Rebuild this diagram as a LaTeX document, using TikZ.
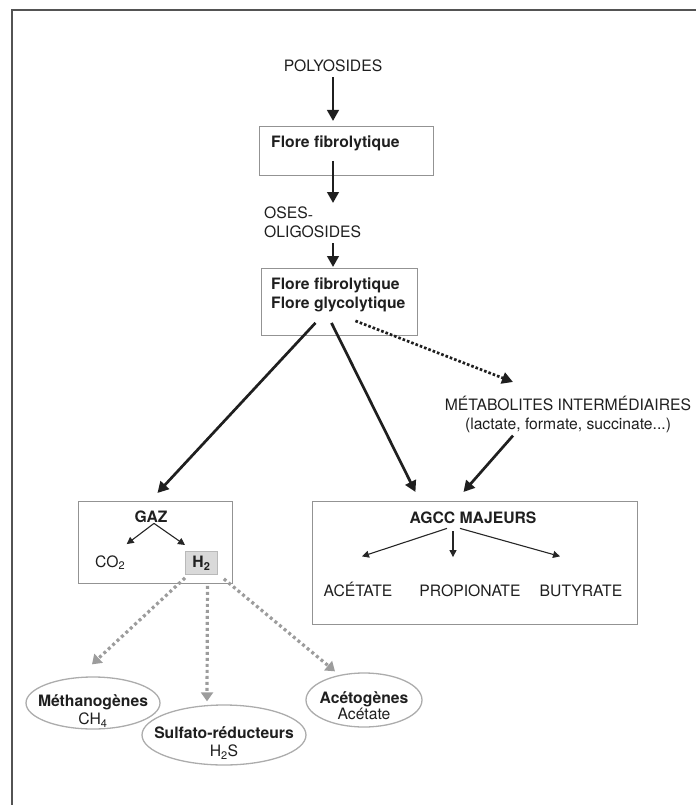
\documentclass[tikz,border=0pt]{standalone}
\usepackage{fontspec}
\setmainfont{TeX Gyre Heros}
\usetikzlibrary{arrows.meta, shapes}

\tikzset{
  texte/.style={inner sep=0pt, text=black!88, font=\fontsize{15.7}{18.5}\selectfont},
  gras/.style={texte, font=\fontsize{15.7}{18.5}\selectfont\bfseries},
  boite/.style={draw=gray!85, line width=0.9pt, inner sep=0pt},
  bulle/.style={draw=gray!65, line width=1.3pt, ellipse, inner sep=0pt},
  fleche/.style={line width=2.7pt, draw=black!88, -{Triangle[length=11pt,width=11.5pt]}},
  pointille/.style={fleche, dash pattern=on 2.6pt off 2pt},
  petite/.style={line width=1.1pt, draw=black!85, -{Triangle[length=7pt,width=7pt]}},
  grise/.style={line width=3.2pt, draw=gray!78, dash pattern=on 3pt off 3pt,
    -{Triangle[length=9pt,width=12pt]}}
}

\begin{document}
\begin{tikzpicture}[x=1pt, y=-1pt]
				\useasboundingbox (0,0) rectangle (696,805);
				% Cadre
				\draw[line width=2pt, gray!65!black] (11.5,805) -- (11.5,10) -- (696,10);
				% Nœuds
				\node[texte, anchor=base] (poly) at (333,72) {POLYOSIDES};
				\node[boite, anchor=north west, minimum width=174pt, minimum height=49pt] (flore1) at (259,126) {};
				\node[gras, anchor=base west] (t1) at (271,148) {Flore fibrolytique};
				\node[texte, anchor=north west, align=left] (oses) at (264,207) {OSES\raisebox{-2pt}{-}\\OLIGOSIDES};
				\node[boite, anchor=north west, minimum width=156pt, minimum height=67pt] (flore2) at (261,268) {};
				\node[gras, anchor=north west, align=left] (t2) at (271,278) {Flore fibrolytique\\Flore glycolytique};
				\node[texte, anchor=north, align=center] (metab) at (568,396) {MÉTABOLITES INTERMÉDIAIRES\\(lactate, formate, succinate...)};
				% Gaz
				\node[boite, anchor=north west, minimum width=154pt, minimum height=82pt] (gaz) at (78,501) {};
				\node[gras, anchor=base] (gaztxt) at (151,522) {GAZ};
				\node[texte, anchor=base west] (co2) at (95,567) {CO\textsubscript{2}};
				\node[boite, gras, fill=gray!30, draw=gray!55, anchor=north west, minimum width=32pt, minimum height=23pt] (h2) at (185,551) {H\textsubscript{2}};
				% AGCC
				\node[boite, anchor=north west, minimum width=325pt, minimum height=123pt] (agcc) at (312,501) {};
				\node[gras, anchor=base] (agcctxt) at (473,523) {AGCC MAJEURS};
				\node[texte, anchor=base] (acet) at (358,596) {ACÉTATE};
				\node[texte, anchor=base] (prop) at (470,596) {PROPIONATE};
				\node[texte, anchor=base] (buty) at (581,596) {BUTYRATE};
				% Bactéries
				\node[bulle, minimum width=134pt, minimum height=52pt] (meth) at (93,703) {};
				\node[texte, anchor=north, align=center] (methtxt) at (93,694) {\textbf{Méthanogènes}\\CH\textsubscript{4}};
				\node[bulle, minimum width=164pt, minimum height=60pt] (sulf) at (224,735) {};
				\node[texte, anchor=north, align=center] (sulftxt) at (224,726) {\textbf{Sulfato-réducteurs}\\H\textsubscript{2}S};
				\node[bulle, minimum width=116pt, minimum height=54pt] (aceto) at (364,700) {};
				\node[texte, anchor=north, align=center] (acetotxt) at (364,691) {\textbf{Acétogènes}\\[-2.5pt]Acétate};
				% Flèches
				\draw[fleche, shorten <=5pt, shorten >=5pt] (poly.south) -- (poly.south |- flore1.north);
				\draw[fleche, shorten <=-15pt, shorten >=4pt] (poly.south |- flore1.south) -- (poly.south |- oses.north);
				\draw[fleche, shorten <=5.5pt, shorten >=1pt] (poly.south |- oses.south) -- (poly.south |- flore2.north);
				\draw[fleche] ([xshift=-24pt,yshift=13pt]flore2.south) -- ([xshift=2pt,yshift=8pt]gaz.north);
				\draw[fleche] ([xshift=-8pt,yshift=13pt]flore2.south) -- ([xshift=-59.5pt,yshift=9pt]agcc.north);
				\draw[pointille] ([xshift=16pt,yshift=15pt]flore2.south) -- ([xshift=-55pt,yshift=14pt]metab.north);
				\draw[fleche] ([xshift=-55pt,yshift=-3pt]metab.south) -- ([xshift=-11.5pt,yshift=9pt]agcc.north);
				\draw[petite] ([xshift=3pt,yshift=-1pt]gaztxt.south) -- ([xshift=16.5pt,yshift=11pt]co2.north);
				\draw[petite] ([xshift=3pt,yshift=-1pt]gaztxt.south) -- ([yshift=6pt]h2.north west);
				\draw[petite] ([xshift=-26pt,yshift=-5pt]agcctxt.south) -- ([xshift=4pt,yshift=25pt]acet.north);
				\draw[petite] ([xshift=-20pt,yshift=-8pt]agcctxt.south) -- ([xshift=-17pt,yshift=27pt]prop.north);
				\draw[petite] ([xshift=-13pt,yshift=-5pt]agcctxt.south) -- ([xshift=-21pt,yshift=28pt]buty.north);
				\draw[grise] ([yshift=-3pt]h2.south west) -- ([xshift=-1pt,yshift=12pt]meth.north);
				\draw[grise] ([xshift=6pt,yshift=-11pt]h2.south) -- ([xshift=-17pt,yshift=3pt]sulf.north);
				\draw[grise] ([xshift=6pt,yshift=-4pt]h2.south east) -- ([xshift=-29pt,yshift=1pt]aceto.north);
\end{tikzpicture}
\end{document}
